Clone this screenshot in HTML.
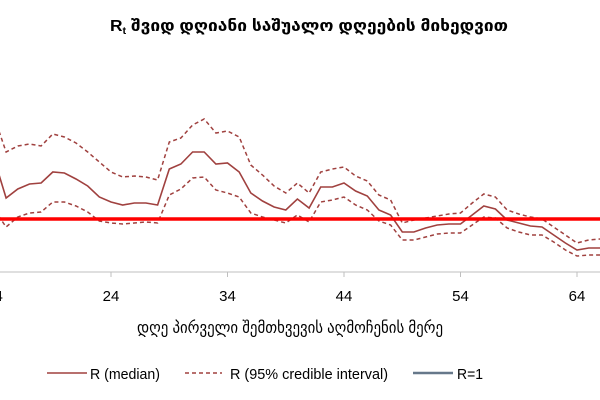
<!DOCTYPE html>
<html><head><meta charset="utf-8"><style>
body{margin:0;background:#fff}
svg{display:block;font-family:"Liberation Sans","DejaVu Sans",sans-serif}
</style></head><body>
<svg id="chart" width="600" height="400" viewBox="0 0 600 400">
<text x="110" y="31" font-size="16" font-weight="bold" fill="#000" textLength="398" lengthAdjust="spacingAndGlyphs">R<tspan font-size="10" dy="3">t</tspan><tspan dy="-3"> შვიდ დღიანი საშუალო დღეების მიხედვით</tspan></text>
<g id="plot"></g>
<text x="137" y="333" font-size="16" fill="#000" textLength="306" lengthAdjust="spacingAndGlyphs">დღე პირველი შემთხვევის აღმოჩენის მერე</text>
<g>
<g><line x1="47" y1="373" x2="87" y2="373" stroke="#a0413f" stroke-width="1.5"/><text x="90" y="379" font-size="15" textLength="70" lengthAdjust="spacingAndGlyphs">R (median)</text></g>
<g><line x1="185" y1="373" x2="222" y2="373" stroke="#a0413f" stroke-width="1.5" stroke-dasharray="4,3"/><text x="230" y="379" font-size="15" textLength="158" lengthAdjust="spacingAndGlyphs">R (95% credible interval)</text></g>
<g><line x1="413" y1="373" x2="453" y2="373" stroke="#66788a" stroke-width="2.5"/><text x="457" y="379" font-size="15" textLength="26" lengthAdjust="spacingAndGlyphs">R=1</text></g>
</g>
</svg>
<script>
const days = [14,15,16,17,18,19,20,21,22,23,24,25,26,27,28,29,30,31,32,33,34,35,36,37,38,39,40,41,42,43,44,45,46,47,48,49,50,51,52,53,54,55,56,57,58,59,60,61,62,63,64,65,66];
const median = [1.59,1.21,1.30,1.35,1.36,1.47,1.46,1.40,1.33,1.22,1.17,1.14,1.16,1.16,1.14,1.50,1.55,1.67,1.67,1.55,1.56,1.47,1.26,1.18,1.12,1.09,1.20,1.11,1.32,1.32,1.36,1.28,1.23,1.09,1.04,0.87,0.87,0.91,0.94,0.95,0.95,1.04,1.13,1.10,0.99,0.96,0.93,0.92,0.84,0.76,0.69,0.71,0.71];
const upper = [2.01,1.67,1.73,1.75,1.73,1.85,1.82,1.76,1.67,1.57,1.47,1.42,1.43,1.42,1.39,1.77,1.81,1.94,2.00,1.86,1.88,1.82,1.54,1.44,1.33,1.26,1.36,1.26,1.47,1.50,1.52,1.43,1.38,1.24,1.19,0.96,0.99,1.01,1.03,1.05,1.06,1.16,1.25,1.22,1.09,1.05,1.02,1.00,0.92,0.84,0.76,0.79,0.80];
const lower = [1.09,0.92,1.02,1.06,1.07,1.17,1.17,1.13,1.07,0.98,0.96,0.95,0.96,0.97,0.96,1.24,1.30,1.41,1.42,1.29,1.26,1.22,1.06,1.02,0.99,0.96,1.04,0.97,1.17,1.19,1.22,1.14,1.09,0.98,0.94,0.79,0.79,0.82,0.85,0.86,0.86,0.94,1.02,1.01,0.91,0.87,0.84,0.84,0.77,0.69,0.63,0.64,0.64];
const xTicks = [14,24,34,44,54,64];
const threshold = 1;

const NS = "http://www.w3.org/2000/svg";
const plot = document.getElementById('plot');
const xS = d => 111 + (d - 24) * 11.65;
const yS = v => 219 - (v - 1) * 100;

function mk(tag, attrs){const e=document.createElementNS(NS,tag);for(const k in attrs)e.setAttribute(k,attrs[k]);plot.appendChild(e);return e;}

const ax = mk('line',{x1:0,y1:272,x2:600,y2:272,stroke:'#bfbfbf','stroke-width':1});


xTicks.forEach(t=>{
  const tk = mk('line',{x1:xS(t),y1:272,x2:xS(t),y2:277,stroke:'#bfbfbf'});
  
  
  const lb = mk('text',{x:xS(t),y:301,'text-anchor':'middle','font-size':15,fill:'#000'});
  lb.textContent = t;
  
  
});

function path(arr){return arr.map((v,i)=>(i?'L':'M')+xS(days[i]).toFixed(1)+','+yS(v).toFixed(1)).join(' ');}
const up = mk('path',{d:path(upper),fill:'none',stroke:'#a0413f','stroke-width':1.5,'stroke-dasharray':'4,3'});


const lo = mk('path',{d:path(lower),fill:'none',stroke:'#a0413f','stroke-width':1.5,'stroke-dasharray':'4,3'});


const md = mk('path',{d:path(median),fill:'none',stroke:'#a0413f','stroke-width':1.6});


const th = mk('line',{x1:0,y1:yS(threshold),x2:600,y2:yS(threshold),stroke:'#ff0000','stroke-width':3.5});


</script>
</body></html>
